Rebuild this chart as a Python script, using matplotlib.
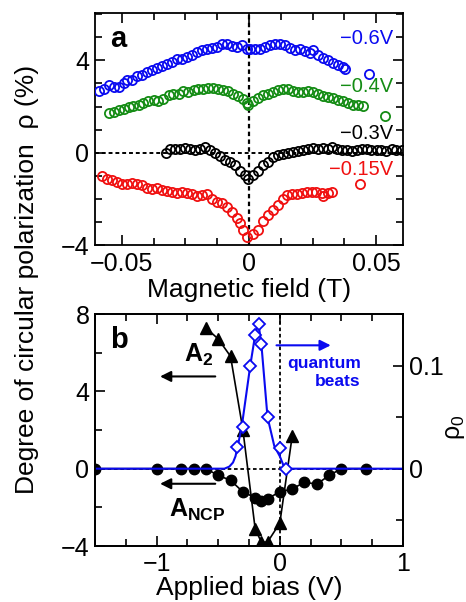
import numpy as np
import matplotlib
matplotlib.use('Agg')
import matplotlib.pyplot as plt
from matplotlib.ticker import MultipleLocator, FixedLocator

plt.rcParams['font.family'] = ['Liberation Sans', 'DejaVu Sans']
plt.rcParams['mathtext.fontset'] = 'custom'
plt.rcParams['mathtext.rm'] = 'Liberation Sans'
plt.rcParams['mathtext.bf'] = 'Liberation Sans:bold'
plt.rcParams['axes.unicode_minus'] = True

BLUE = '#0a0af0'
GREEN = '#148c14'
RED = '#f01010'

# ---- panel a: rho (%) vs magnetic field (T)
blue_B = [-0.0591, -0.0571, -0.0552, -0.0532, -0.0512, -0.0493, -0.0480, -0.0460, -0.0440, -0.0421,
          -0.0401, -0.0382, -0.0362, -0.0342, -0.0323, -0.0303, -0.0284, -0.0264, -0.0244, -0.0225,
          -0.0205, -0.0185, -0.0166, -0.0146, -0.0127, -0.0107, -0.0087, -0.0068, -0.0048, -0.0029,
          -0.0009, 0.0004, 0.0024, 0.0043, 0.0063, 0.0082, 0.0102, 0.0122, 0.0141, 0.0161,
          0.0180, 0.0200, 0.0220, 0.0239, 0.0252, 0.0272, 0.0292, 0.0311, 0.0331, 0.0350,
          0.0370, 0.0376]
blue_rho = [2.66, 2.77, 2.92, 2.84, 2.84, 3.03, 3.13, 3.13, 3.32, 3.35,
            3.49, 3.57, 3.67, 3.75, 3.86, 3.93, 4.04, 4.07, 4.14, 4.25,
            4.36, 4.43, 4.48, 4.53, 4.58, 4.72, 4.72, 4.62, 4.58, 4.68,
            4.48, 4.51, 4.48, 4.51, 4.58, 4.68, 4.72, 4.72, 4.65, 4.53,
            4.43, 4.48, 4.39, 4.33, 4.43, 4.22, 4.10, 4.00, 3.90, 3.81,
            3.71, 3.64]

green_B = [-0.0552, -0.0532, -0.0512, -0.0493, -0.0473, -0.0454, -0.0434, -0.0415, -0.0395, -0.0375,
           -0.0356, -0.0336, -0.0316, -0.0297, -0.0277, -0.0258, -0.0238, -0.0218, -0.0199, -0.0179,
           -0.0160, -0.0140, -0.0120, -0.0101, -0.0081, -0.0062, -0.0042, -0.0022, -0.0009,
           -0.0003, 0.0017, 0.0037, 0.0056, 0.0076, 0.0095, 0.0115, 0.0135, 0.0154, 0.0174,
           0.0193, 0.0213, 0.0233, 0.0252, 0.0272, 0.0292, 0.0311, 0.0331, 0.0350, 0.0370,
           0.0389, 0.0409, 0.0429, 0.0448]
green_rho = [1.73, 1.76, 1.83, 1.91, 1.98, 2.02, 2.08, 2.17, 2.22, 2.27,
             2.22, 2.34, 2.48, 2.56, 2.56, 2.66, 2.63, 2.70, 2.77, 2.74,
             2.80, 2.80, 2.77, 2.70, 2.66, 2.56, 2.45, 2.31, 2.17,
             2.08, 2.22, 2.37, 2.48, 2.56, 2.63, 2.70, 2.77, 2.74, 2.66,
             2.63, 2.63, 2.66, 2.63, 2.56, 2.45, 2.41, 2.37, 2.27, 2.22,
             2.17, 2.08, 2.05, 2.02]

black_B = [-0.0325, -0.0310, -0.0290, -0.0271, -0.0251, -0.0231, -0.0212, -0.0192, -0.0173, -0.0153,
           -0.0133, -0.0114, -0.0094, -0.0075, -0.0055, -0.0035, -0.0016,
           -0.0003, 0.0017, 0.0037, 0.0056, 0.0076, 0.0095, 0.0115, 0.0135, 0.0154, 0.0174,
           0.0193, 0.0213, 0.0233, 0.0252, 0.0272, 0.0292, 0.0311, 0.0324, 0.0344, 0.0364,
           0.0383, 0.0403, 0.0423, 0.0442, 0.0462, 0.0481, 0.0501, 0.0520, 0.0540, 0.0560,
           0.0579, 0.0599]
black_rho = [-0.02, 0.17, 0.17, 0.17, 0.22, 0.17, 0.13, 0.17, 0.24, 0.10,
             -0.02, -0.16, -0.33, -0.41, -0.55, -0.80, -0.98,
             -1.13, -0.98, -0.80, -0.55, -0.41, -0.19, -0.12, -0.04, -0.02, 0.03,
             0.07, 0.10, 0.17, 0.22, 0.17, 0.22, 0.17, 0.24, 0.17, 0.13,
             0.10, 0.07, 0.13, 0.17, 0.17, 0.13, 0.10, 0.13, 0.07, 0.17,
             0.13, 0.13]

red_B = [-0.0578, -0.0558, -0.0538, -0.0519, -0.0499, -0.0480, -0.0460, -0.0440, -0.0421, -0.0401,
         -0.0382, -0.0362, -0.0342, -0.0323, -0.0303, -0.0284, -0.0264, -0.0244, -0.0225, -0.0205,
         -0.0185, -0.0166, -0.0146, -0.0127, -0.0107, -0.0087, -0.0068, -0.0048, -0.0035, -0.0022,
         -0.0007, 0.0017, 0.0037, 0.0056, 0.0076, 0.0095, 0.0115, 0.0135, 0.0148, 0.0167,
         0.0187, 0.0207, 0.0226, 0.0246, 0.0265, 0.0285, 0.0292, 0.0311, 0.0327]
red_rho = [-1.03, -1.13, -1.20, -1.27, -1.34, -1.37, -1.32, -1.37, -1.42, -1.52,
           -1.56, -1.52, -1.60, -1.66, -1.71, -1.75, -1.71, -1.75, -1.81, -1.89,
           -1.85, -1.81, -1.99, -2.14, -2.18, -2.36, -2.57, -2.82, -3.05, -3.34,
           -3.66, -3.54, -3.34, -2.96, -2.72, -2.50, -2.28, -1.99, -1.85, -1.81,
           -1.78, -1.75, -1.71, -1.71, -1.71, -1.75, -1.89, -1.75, -1.71]

# legend-like single markers next to the voltage labels
key_B = [0.0471, 0.0533, 0.0435]
key_rho = [3.42, 1.59, -1.37]
key_colors = [BLUE, GREEN, RED]

volt_labels = ['\u22120.6V', '\u22120.4V', '\u22120.3V', '\u22120.15V']
volt_y = [4.95, 2.87, 0.82, -0.74]
volt_colors = [BLUE, GREEN, 'black', RED]

# ---- panel b: amplitudes vs applied bias (V)
ncp_bias = [-1.5, -1.0, -0.8, -0.7, -0.6, -0.5, -0.4, -0.3, -0.2, -0.15, -0.1, 0.0, 0.1, 0.2, 0.3, 0.4, 0.5, 0.7]
ncp_val = [0, 0, 0, 0, 0, -0.35, -0.6, -1.2, -1.5, -1.65, -1.55, -1.2, -1.05, -0.7, -0.8, -0.35, 0, 0]

a2_bias = [-0.6, -0.5, -0.4, -0.3, -0.2, -0.15, -0.1, 0.0, 0.1]
a2_val = [7.28, 6.71, 5.81, 2.02, -3.12, -3.8, -3.8, -2.81, 1.67]

qb_bias = [-0.35, -0.3, -0.24, -0.2, -0.17, -0.15, -0.1, 0.0, 0.05]
qb_rho = [0.021, 0.040, 0.100, 0.130, 0.140, 0.121, 0.050, 0.020, 0.0]

fit_bias = [-1.5, -0.45, -0.41, -0.38, -0.36, -0.345, -0.31, -0.24, -0.2, -0.175, -0.15, -0.1, -0.045, 0.0, 0.03, 0.06, 1.0]
fit_rho = [0.0, 0.0, 0.002, 0.006, 0.012, 0.020, 0.040, 0.100, 0.130, 0.142, 0.121, 0.050, 0.022, 0.012, 0.003, 0.0, 0.0]

fig = plt.figure(figsize=(4.66, 6.02), dpi=100)
axa = fig.add_axes([0.2039, 0.593, 0.661, 0.3854])
axb = fig.add_axes([0.2039, 0.093, 0.661, 0.3854])

dash = (0, (2, 1.5))

def style(ax, **kw):
    for s in ax.spines.values():
        s.set_linewidth(1.3)
    ax.tick_params(which='both', direction='in', width=1.2, labelsize=18, pad=4, **kw)
    ax.tick_params(which='major', length=7)
    ax.tick_params(which='minor', length=5)

# panel a
axa.axhline(0, color='k', lw=1.4, ls=dash, zorder=1)
axa.axvline(0, color='k', lw=1.6, ls=dash, zorder=1)
circ = dict(ls='none', marker='o', ms=6.6, mfc='none', mew=1.3, zorder=3)
axa.plot(blue_B, blue_rho, mec=BLUE, **circ)
axa.plot(green_B, green_rho, mec=GREEN, **circ)
axa.plot(black_B, black_rho, mec='black', **circ)
axa.plot(red_B, red_rho, mec=RED, **circ)
for b, r, c in zip(key_B, key_rho, key_colors):
    axa.plot([b], [r], mec=c, **circ)
for lab, y, c in zip(volt_labels, volt_y, volt_colors):
    axa.text(0.0565, y, lab, color=c, fontsize=14.5, ha='right', va='center')
axa.set_xlim(-0.0605, 0.0605)
axa.set_ylim(-4, 6.05)
axa.xaxis.set_major_locator(FixedLocator([-0.05, 0, 0.05]))
axa.xaxis.set_minor_locator(MultipleLocator(0.0125))
axa.yaxis.set_major_locator(FixedLocator([-4, 0, 4]))
axa.yaxis.set_minor_locator(MultipleLocator(1))
axa.set_xticklabels(['\u22120.05', '0', '0.05'])
axa.set_yticklabels(['\u22124', '0', '4'])
style(axa, top=True, right=True)
axa.tick_params(axis='x', pad=5)
axa.text(0.049, 0.853, 'a', transform=axa.transAxes, fontsize=21, fontweight='bold', va='baseline')

# panel b
axb.axhline(0, color='k', lw=1.3, ls=dash, zorder=1)
axb.axvline(0, color='k', lw=1.3, ls=dash, zorder=1)
axb.plot(ncp_bias, ncp_val, color='k', lw=1.2, marker='o', ms=7.5, zorder=3)
axb.plot(a2_bias, a2_val, color='k', lw=1.2, marker='^', ms=8, zorder=3)
axb.set_xlim(-1.5, 1.0)
axb.set_ylim(-4, 8)
axb.xaxis.set_major_locator(FixedLocator([-1, 0, 1]))
axb.xaxis.set_minor_locator(MultipleLocator(0.25))
axb.yaxis.set_major_locator(FixedLocator([-4, 0, 4, 8]))
axb.yaxis.set_minor_locator(MultipleLocator(2))
axb.set_xticklabels(['\u22121', '0', '1'])
axb.set_yticklabels(['\u22124', '0', '4', '8'])
style(axb, top=True, right=False)
axb.tick_params(axis='x', pad=4)

ax2 = axb.twinx()
ax2.plot(fit_bias, fit_rho, color=BLUE, lw=1.5, zorder=2)
ax2.plot(qb_bias, qb_rho, ls='none', marker='D', ms=6.5, mfc='white', mec=BLUE, mew=1.3, zorder=3)
ax2.set_ylim(-0.075, 0.15)
ax2.yaxis.set_major_locator(FixedLocator([0, 0.1]))
ax2.yaxis.set_minor_locator(MultipleLocator(0.05))
ax2.set_yticklabels(['0', '0.1'])
style(ax2, right=True, left=False)

axb.text(0.049, 0.853, 'b', transform=axb.transAxes, fontsize=21, fontweight='bold', va='baseline')
axb.text(-0.78, 5.55, r'$\mathbf{A}_{\mathbf{2}}$', fontsize=18, va='baseline')
axb.text(-0.90, -2.47, r'$\mathbf{A}_{\mathbf{NCP}}$', fontsize=18, va='baseline')
axb.text(0.658, 5.21, 'quantum', color=BLUE, fontsize=12.5, fontweight='bold', ha='right', va='baseline')
axb.text(0.658, 4.26, 'beats', color=BLUE, fontsize=12.5, fontweight='bold', ha='right', va='baseline')
arr = dict(arrowstyle='-|>', lw=1.5, mutation_scale=16, shrinkA=0, shrinkB=0)
axb.annotate('', xy=(-0.972, 4.77), xytext=(-0.524, 4.77), arrowprops=dict(color='k', **arr))
axb.annotate('', xy=(-0.972, -0.78), xytext=(-0.524, -0.78), arrowprops=dict(color='k', **arr))
axb.annotate('', xy=(0.413, 6.38), xytext=(-0.027, 6.38), arrowprops=dict(color=BLUE, **arr))

fig.text(0.535, 0.506, 'Magnetic field (T)', fontsize=19, ha='center', va='baseline')
fig.text(0.535, 0.011, 'Applied bias (V)', fontsize=19, ha='center', va='baseline')
fig.text(0.058, 0.5357, 'Degree of circular polarization  \u03c1 (%)', fontsize=19,
         rotation=90, ha='center', va='center')
fig.text(0.976, 0.291, '\u03c1$_0$', fontsize=18, rotation=90, ha='center', va='center')

fig.savefig('out.png', dpi=100)
